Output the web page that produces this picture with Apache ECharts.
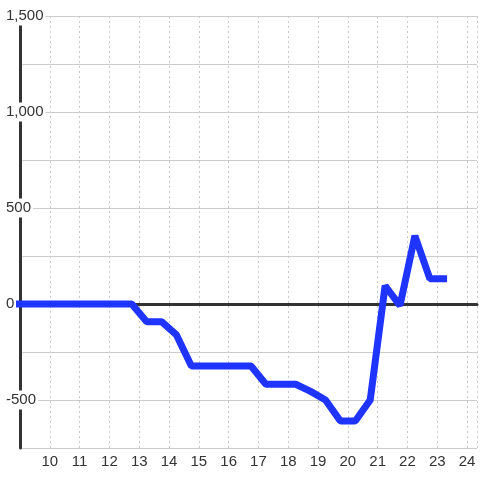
<!DOCTYPE html>
<html>
<head>
<meta charset="utf-8">
<script src="https://cdn.jsdelivr.net/npm/echarts@6/dist/echarts.min.js"></script>
<style>
  html, body { margin: 0; padding: 0; background: #fff; }
  #chart { width: 480px; height: 480px; }
</style>
</head>
<body>
<div id="chart"></div>
<script>
// hours along x, values along y
var hours = [8.75, 9.25, 9.75, 10.25, 10.75, 11.25, 11.75, 12.25, 12.75, 13.25, 13.75, 14.25, 14.75,
  15.25, 15.75, 16.25, 16.75, 17.25, 17.75, 18.25, 18.75, 19.25, 19.75, 20.25, 20.75,
  21.25, 21.75, 22.25, 22.75, 23.33];
var values = [0, 0, 0, 0, 0, 0, 0, 0, 0, -92, -92, -161, -323,
  -323, -323, -323, -323, -418, -418, -418, -455, -500, -609, -609, -500,
  95, -8, 355, 132, 132];
var yTicks = [-500, 0, 500, 1000, 1500];
var xTicks = [10, 11, 12, 13, 14, 15, 16, 17, 18, 19, 20, 21, 22, 23, 24];

var points = hours.map(function (h, i) { return [h, values[i]]; });

var chart = echarts.init(document.getElementById("chart"));
var font = "Liberation Sans";

var option = {
  backgroundColor: "#ffffff",
  animation: false,
  grid: {
    left: 20,
    right: 0,
    top: 16,
    bottom: 32,
    containLabel: false,
  },
  xAxis: [
    {
      type: "value",
      min: 9,
      max: 24.333,
      interval: 1,
      axisLine: { show: false, onZero: false },
      axisTick: { show: false },
      axisLabel: {
        margin: 6,
        color: "#333",
        fontSize: 15,
        fontFamily: font,
        formatter: function (v) {
          return xTicks.indexOf(v) >= 0 ? String(v) : "";
        },
      },
      splitLine: {
        show: true,
        lineStyle: { color: "#c8c8c8", type: [2, 3], width: 1 },
      },
    },
    {
      type: "value",
      min: 9,
      max: 24.333,
      position: "bottom",
      axisLine: { show: true, onZero: true, lineStyle: { color: "#333", width: 3 } },
      axisTick: { show: false },
      axisLabel: { show: false },
      splitLine: { show: false },
    },
  ],
  yAxis: {
    type: "value",
    min: -750,
    max: 1500,
    interval: 250,
    axisLine: { show: true, lineStyle: { color: "#333", width: 3 } },
    axisTick: { show: false },
    axisLabel: {
      align: "left",
      margin: 14,
      color: "#333",
      fontSize: 15,
      fontFamily: font,
      backgroundColor: "#ffffff",
      padding: [4, 2, 0, 0],
      formatter: function (v) {
        return yTicks.indexOf(v) >= 0 ? v.toLocaleString("en-US") : "";
      },
    },
    splitLine: {
      show: true,
      lineStyle: { color: "#cccccc", width: 1 },
    },
  },
  series: [
    {
      type: "line",
      xAxisIndex: 0,
      data: points,
      showSymbol: false,
      symbol: "none",
      lineStyle: { color: "#1f35ff", width: 7 },
    },
  ],
};
chart.setOption(option);
</script>
</body>
</html>
